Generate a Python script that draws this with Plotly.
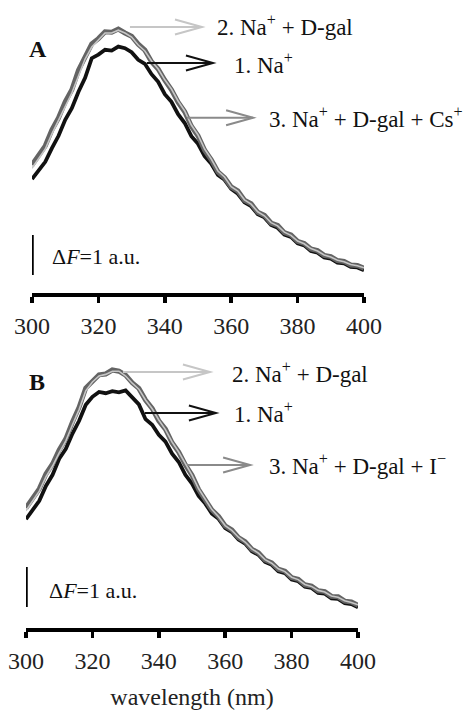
import plotly.graph_objects as go

# ---------------- data ----------------
wavelength = list(range(300, 401, 2))

# Panel A
A_na = [2.85, 3.08, 3.28, 3.62, 3.93, 4.33, 4.62, 5.03, 5.38, 5.87, 5.96, 6.08, 6.06, 6.16, 6.12, 6.02, 5.83,
        5.73, 5.47, 5.28, 4.97, 4.78, 4.47, 4.25, 3.92, 3.73, 3.42, 3.23, 2.95, 2.83, 2.6, 2.48, 2.27, 2.17,
        1.97, 1.89, 1.7, 1.63, 1.46, 1.4, 1.24, 1.19, 1.05, 1.01, 0.89, 0.86, 0.76, 0.74, 0.65, 0.64, 0.57]
A_na_gal = [3.12, 3.35, 3.6, 3.98, 4.3, 4.66, 5.0, 5.45, 5.85, 6.15, 6.33, 6.5, 6.5, 6.57, 6.5, 6.4, 6.2,
            6.05, 5.8, 5.6, 5.33, 5.1, 4.8, 4.55, 4.2, 3.95, 3.6, 3.35, 3.05, 2.9, 2.66, 2.55, 2.33, 2.22,
            2.03, 1.93, 1.76, 1.68, 1.52, 1.44, 1.3, 1.23, 1.11, 1.05, 0.95, 0.9, 0.82, 0.78, 0.71, 0.68, 0.63]
A_na_gal_cs = [3.2, 3.43, 3.68, 4.08, 4.38, 4.78, 5.08, 5.57, 5.93, 6.23, 6.36, 6.53, 6.52, 6.6, 6.5, 6.42,
               6.22, 6.07, 5.78, 5.6, 5.32, 5.08, 4.77, 4.53, 4.17, 3.93, 3.57, 3.33, 3.03, 2.88, 2.65, 2.55,
               2.32, 2.23, 2.02, 1.94, 1.75, 1.69, 1.51, 1.45, 1.29, 1.24, 1.1, 1.06, 0.94, 0.91, 0.81, 0.79,
               0.7, 0.69, 0.62]

# Panel B
B_na = [2.72, 2.97, 3.18, 3.55, 3.83, 4.23, 4.48, 4.86, 5.18, 5.58, 5.78, 5.9, 5.87, 5.92, 5.89, 5.94, 5.75,
        5.59, 5.22, 5.08, 4.83, 4.66, 4.36, 4.15, 3.83, 3.61, 3.3, 3.11, 2.86, 2.73, 2.5, 2.4, 2.21, 2.11,
        1.92, 1.83, 1.65, 1.58, 1.42, 1.37, 1.21, 1.17, 1.03, 1.0, 0.88, 0.86, 0.74, 0.73, 0.62, 0.6, 0.52]
B_na_gal = [2.93, 3.16, 3.42, 3.78, 4.05, 4.38, 4.68, 5.08, 5.46, 5.93, 6.15, 6.3, 6.34, 6.42, 6.42, 6.3, 6.12,
            5.97, 5.7, 5.48, 5.2, 4.96, 4.65, 4.4, 4.1, 3.82, 3.48, 3.22, 2.96, 2.78, 2.56, 2.44, 2.27, 2.15,
            1.98, 1.87, 1.71, 1.62, 1.48, 1.41, 1.27, 1.21, 1.09, 1.04, 0.94, 0.9, 0.8, 0.77, 0.68, 0.64, 0.58]
B_na_gal_i = [3.0, 3.24, 3.48, 3.85, 4.1, 4.45, 4.73, 5.15, 5.52, 6.0, 6.18, 6.33, 6.35, 6.45, 6.42, 6.32,
              6.13, 5.99, 5.7, 5.49, 5.18, 4.97, 4.63, 4.4, 4.08, 3.82, 3.46, 3.22, 2.95, 2.79, 2.55, 2.45,
              2.26, 2.16, 1.97, 1.88, 1.7, 1.63, 1.47, 1.42, 1.26, 1.22, 1.08, 1.05, 0.93, 0.91, 0.79, 0.78,
              0.67, 0.65, 0.57]

tick_vals = [300, 320, 340, 360, 380, 400]
tick_text = ["300", "320", "340", "360", "380", "400"]

labels_A = ["2. Na<sup>+</sup> + D-gal", "1. Na<sup>+</sup>", "3. Na<sup>+</sup> + D-gal + Cs<sup>+</sup>"]
labels_B = ["2. Na<sup>+</sup> + D-gal", "1. Na<sup>+</sup>", "3. Na<sup>+</sup> + D-gal + I<sup>−</sup>"]
scale_label = "Δ<i>F</i>=1 a.u."
x_title = "wavelength (nm)"

# ---------------- styling ----------------
FONT = "Liberation Serif"
BLACK = "#111111"
DARK = "#646464"
LIGHT = "#c6c6c6"
MID = "#8a8a8a"

W, H = 476, 711
fig = go.Figure()

def add_panel(xa, ya, na, gal, third):
    fig.add_trace(go.Scatter(x=wavelength, y=na, mode="lines", line=dict(color=BLACK, width=3.8),
                             xaxis=xa, yaxis=ya, showlegend=False, cliponaxis=False))
    fig.add_trace(go.Scatter(x=wavelength, y=third, mode="lines", line=dict(color=DARK, width=5),
                             xaxis=xa, yaxis=ya, showlegend=False, cliponaxis=False))
    fig.add_trace(go.Scatter(x=wavelength, y=gal, mode="lines", line=dict(color=LIGHT, width=1.6),
                             xaxis=xa, yaxis=ya, showlegend=False, cliponaxis=False))

add_panel("x", "y", A_na, A_na_gal, A_na_gal_cs)
add_panel("x2", "y2", B_na, B_na_gal, B_na_gal_i)

axis_common = dict(range=[300, 400], tickvals=tick_vals, ticktext=tick_text, showgrid=False,
                   zeroline=False, showline=True, linecolor="black", linewidth=3.5, automargin=False,
                   ticks="outside", ticklen=6, tickwidth=3.5, tickcolor="black",
                   tickfont=dict(family=FONT, size=24, color="#222"), ticklabelstandoff=3)

fig.update_layout(
    template="none",
    width=W, height=H, margin=dict(l=0, r=0, t=0, b=0, autoexpand=False),
    paper_bgcolor="white", plot_bgcolor="white",
    xaxis=dict(domain=[32 / W, 364 / W], anchor="y", **axis_common),
    yaxis=dict(domain=[1 - 293 / H, 1], range=[0, 293 / 40], visible=False, anchor="x",
               automargin=False),
    xaxis2=dict(domain=[26 / W, 358 / W], anchor="y2",
                title=dict(text=x_title, font=dict(family=FONT, size=24, color="#222"), standoff=16),
                **axis_common),
    yaxis2=dict(domain=[1 - 628 / H, 1 - 340 / H], range=[0, 288 / 40], visible=False, anchor="x2",
                automargin=False),
)

shapes = []
annotations = []

def panel_decor(xr, yr, letter, letter_xy, labels, arrows, text_pos, bar, bar_text):
    px_per_nm = 3.32
    px_per_au = 40.0
    head_dx = 27 / px_per_nm
    head_dy = 7.5 / px_per_au
    for (x0, x1, y, col), lab, (tx, ty) in zip(arrows, labels, text_pos):
        shapes.append(dict(type="line", xref=xr, yref=yr, x0=x0, x1=x1, y0=y, y1=y,
                           line=dict(color=col, width=2)))
        shapes.append(dict(type="path", xref=xr, yref=yr,
                           path=f"M {x1 - head_dx},{y + head_dy} L {x1},{y} L {x1 - head_dx},{y - head_dy}",
                           line=dict(color=col, width=2)))
        annotations.append(dict(x=tx, y=ty, xref=xr, yref=yr, text=lab, showarrow=False,
                                xanchor="left", yanchor="middle",
                                font=dict(family=FONT, size=23, color="#111")))
    annotations.append(dict(x=letter_xy[0], y=letter_xy[1], xref=xr, yref=yr, text=f"<b>{letter}</b>",
                            showarrow=False, xanchor="center", yanchor="middle",
                            font=dict(family=FONT, size=24, color="#111")))
    bx, by0, by1 = bar
    shapes.append(dict(type="line", xref=xr, yref=yr, x0=bx, x1=bx, y0=by0, y1=by1,
                       line=dict(color="black", width=3.5)))
    annotations.append(dict(x=bar_text[0], y=bar_text[1], xref=xr, yref=yr, text=scale_label,
                            showarrow=False, xanchor="left", yanchor="middle",
                            font=dict(family=FONT, size=22, color="#111")))

panel_decor("x", "y", "A", (301.8, 6.1), labels_A,
            [(329.5, 351.2, 6.65, LIGHT), (334.6, 354.5, 5.75, BLACK), (346.7, 366.6, 4.38, MID)],
            [(355.1, 6.7), (360.2, 5.75), (370.8, 4.38)],
            (300, 0.45, 1.45), (305.4, 0.92))
panel_decor("x2", "y2", "B", (303.3, 6.15), labels_B,
            [(329.2, 355.4, 6.4, LIGHT), (335.8, 357.2, 5.375, BLACK), (348.5, 367.5, 4.075, MID)],
            [(361.4, 6.4), (362.0, 5.4), (372.6, 4.08)],
            (300, 0.525, 1.525), (306.3, 0.95))

fig.update_layout(shapes=shapes, annotations=annotations)
fig.write_html("out.html", config={"displayModeBar": False, "staticPlot": True},
               post_script="document.body.style.margin='0';document.body.style.overflow='hidden';")
